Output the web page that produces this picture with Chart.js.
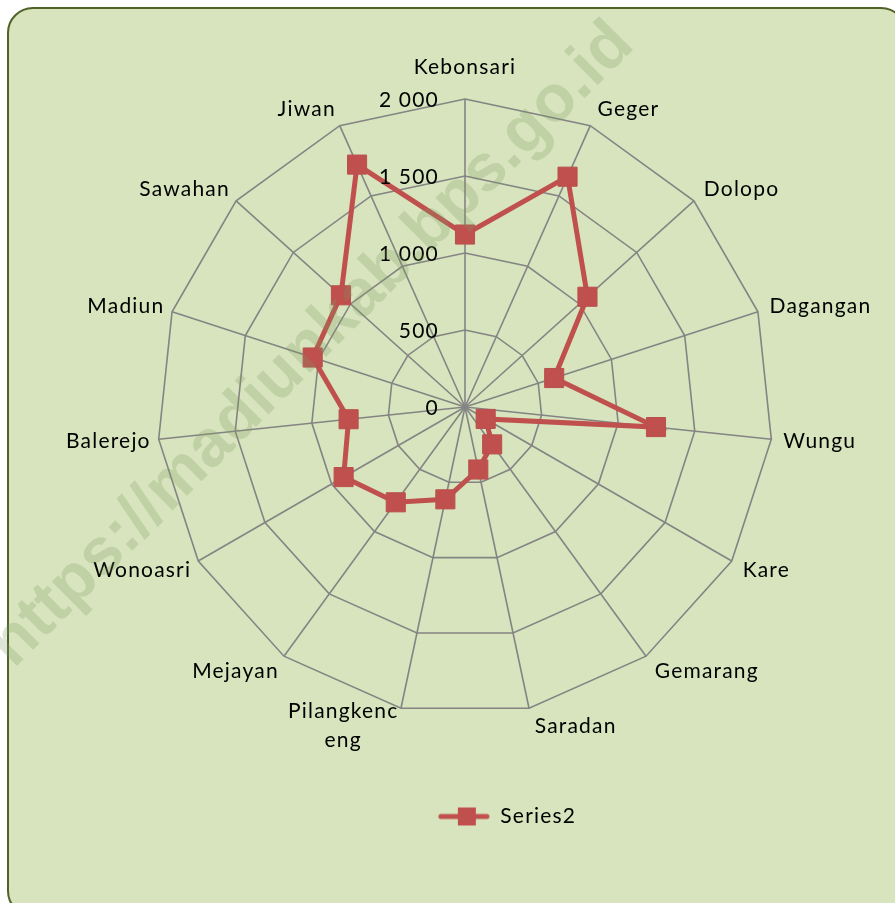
<!DOCTYPE html>
<html>
<head>
<meta charset="utf-8">
<script src="https://cdn.jsdelivr.net/npm/chart.js@4"></script>
<style>
  html, body { margin: 0; padding: 0; background: #ffffff; overflow: hidden; }
  #frame {
    position: absolute; left: 7px; top: 7px; width: 900px; height: 910px;
    background: #d7e4bd; border: 2px solid #4f6228; border-radius: 26px;
    box-sizing: border-box;
  }
  #radar { position: absolute; left: 0; top: 0; }
</style>
</head>
<body>
<div id="frame"></div>
<canvas id="radar" width="895" height="903"></canvas>
<script>
// KECAMATAN (categories, clockwise from the top)
const districts = [
  "Kebonsari", "Geger", "Dolopo", "Dagangan", "Wungu", "Kare", "Gemarang",
  "Saradan", ["Pilangkenc", "eng"], "Mejayan", "Wonoasri", "Balerejo",
  "Madiun", "Sawahan", "Jiwan"
];

// SERIES2 values
const series2 = [1120, 1637, 1070, 609, 1247, 155, 300, 415, 613, 765, 910, 760, 1040, 1084, 1723];

// RADIAL AXIS TICKS
const tickValues = [0, 500, 1000, 1500, 2000];
const tickLabels = ["0", "500", "1 000", "1 500", "2 000"];

const FONT = "Lato";
const FONT_SIZE = 21;
const SPACING = "1.2px";
const RED = "#c0504d";
const GRID = "#848484";

// legend symbol: line with a square marker (left part left blank to push the item right)
function legendSymbol() {
  const c = document.createElement("canvas");
  c.width = 136; c.height = 22;
  const g = c.getContext("2d");
  g.strokeStyle = RED;
  g.lineWidth = 5;
  g.lineCap = "round";
  g.beginPath();
  g.moveTo(87, 11);
  g.lineTo(133, 11);
  g.stroke();
  g.fillStyle = RED;
  g.fillRect(104, 2, 18, 18);
  return c;
}

// point labels and tick labels placed the way Excel does it
const excelLabels = {
  id: "excelLabels",
  beforeLayout(chart) {
    chart.ctx.letterSpacing = SPACING;
  },
  afterDatasetsDraw(chart) {
    const s = chart.scales.r;
    const ctx = chart.ctx;
    ctx.save();
    ctx.letterSpacing = SPACING;
    ctx.fillStyle = "#000";
    ctx.font = FONT_SIZE + "px " + FONT;
    ctx.textBaseline = "middle";

    // tick labels, right aligned left of the vertical axis
    ctx.textAlign = "right";
    tickValues.forEach((v, i) => {
      const d = s.getDistanceFromCenterForValue(v);
      ctx.fillText(tickLabels[i], s.xCenter - 26, s.yCenter - d + 1);
    });

    // category labels
    ctx.textAlign = "center";
    const lineH = 29;
    districts.forEach((name, i) => {
      const lines = Array.isArray(name) ? name : [name];
      const a = s.getIndexAngle(i);
      const p = s.getPointPosition(i, s.drawingArea);
      const sin = Math.sin(a), cos = Math.cos(a);
      const w = Math.max(...lines.map(l => ctx.measureText(l).width));
      const h = lines.length * lineH;
      let left, cy;
      if (Math.abs(sin) < 0.01) {
        left = p.x - w / 2;
        cy = p.y - 32;
      } else if (sin > 0) {
        left = p.x + 4 + 8 * sin;
        cy = p.y - cos * 18;
      } else {
        left = p.x - (1 + 7 * Math.abs(sin)) - w;
        cy = p.y - cos * 18;
      }
      lines.forEach((l, k) => {
        ctx.fillText(l, left + w / 2, cy - h / 2 + lineH * (k + 0.5));
      });
    });
    ctx.restore();
  },
  afterDraw(chart) {
    // site watermark
    const ctx = chart.ctx;
    const text = "https://madiunkab.bps.go.id";
    ctx.save();
    ctx.letterSpacing = "0px";
    ctx.font = "bold 60px 'Liberation Sans'";
    const size = 60 * 880 / ctx.measureText(text).width;
    ctx.font = "bold " + size + "px 'Liberation Sans'";
    ctx.translate(312, 345);
    ctx.rotate(-Math.PI / 4);
    ctx.textAlign = "center";
    ctx.textBaseline = "middle";
    ctx.fillStyle = "rgba(125, 150, 95, 0.25)";
    ctx.fillText(text, 0, 0);
    ctx.restore();
  }
};

const radarChart = new Chart(document.getElementById("radar").getContext("2d"), {
  type: "radar",
  data: {
    labels: districts,
    datasets: [
      {
        label: "Series2",
        data: series2,
        borderColor: RED,
        backgroundColor: RED,
        borderWidth: 5,
        fill: false,
        tension: 0,
        pointStyle: "rect",
        pointRadius: 13.5,
        pointHoverRadius: 13.5,
        pointBackgroundColor: RED,
        pointBorderColor: "#b9504d",
        pointBorderWidth: 1,
      },
    ],
  },
  options: {
    responsive: false,
    animation: false,
    devicePixelRatio: 1,
    layout: {
      padding: { left: 157, right: 122, top: 19, bottom: 66 },
    },
    scales: {
      r: {
        min: 0,
        max: 2000,
        beginAtZero: true,
        ticks: { display: false, stepSize: 500 },
        pointLabels: { display: false },
        grid: { color: GRID, lineWidth: 1.6 },
        angleLines: { color: GRID, lineWidth: 1.6 },
      },
    },
    plugins: {
      legend: {
        position: "bottom",
        labels: {
          usePointStyle: true,
          pointStyle: legendSymbol(),
          pointStyleWidth: 136,
          boxHeight: 20,
          color: "#000",
          font: { family: FONT, size: FONT_SIZE },
          padding: 10,
        },
      },
      tooltip: { enabled: false },
    },
  },
  plugins: [excelLabels],
});
</script>
</body>
</html>
